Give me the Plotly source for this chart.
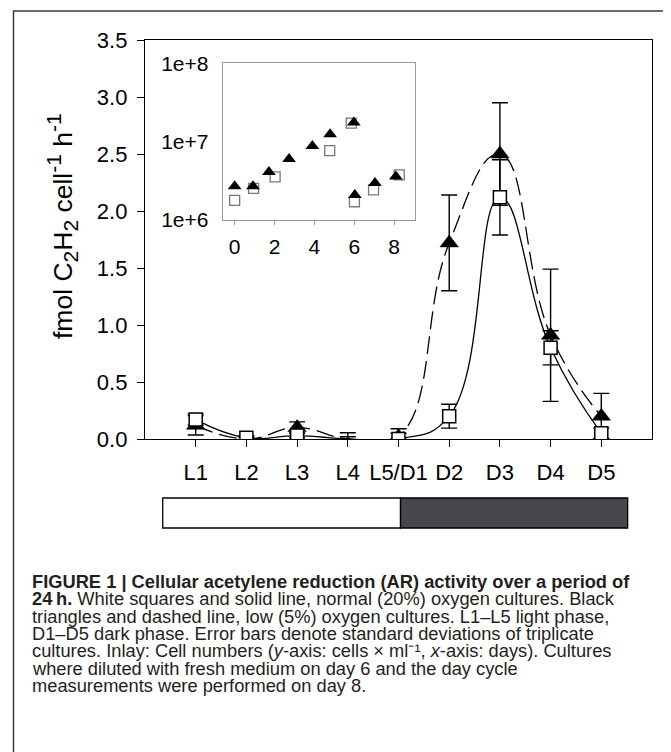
import plotly.graph_objects as go

# main panel: AR activity, fmol C2H2 per cell per hour
categories = ["L1", "L2", "L3", "L4", "L5/D1", "D2", "D3", "D4", "D5"]
normal_o2 = [0.17, 0.01, 0.03, 0.0, 0.0, 0.20, 2.12, 0.80, 0.05]
normal_o2_sd = [0.05, 0.02, 0.02, 0.055, 0.05, 0.105, 0.33, 0.15, 0.045]
low_o2 = [0.12, 0.0, 0.10, 0.0, 0.02, 1.72, 2.50, 0.91, 0.20]
low_o2_sd = [0.085, 0.015, 0.05, 0.02, 0.07, 0.42, 0.45, 0.58, 0.20]
hidden_markers = ["L4"]  # no symbol drawn at L4 in the original

# inset: cell numbers (cells per ml) over days
inset_days_normal = [0.0, 0.95, 2.03, 4.77, 5.85, 6.01, 6.97, 8.26]
inset_cells_normal = [1.78e6, 2.53e6, 3.56e6, 7.7e6, 1.72e7, 1.71e6, 2.43e6, 3.77e6]
inset_days_low = [0.0, 0.92, 1.72, 2.73, 3.90, 4.79, 5.98, 6.03, 7.04, 8.09]
inset_cells_low = [2.7e6, 2.7e6, 4.1e6, 6.0e6, 8.8e6, 1.24e7, 1.75e7, 2.08e6, 2.96e6, 3.6e6]

caption_lines = [
    "<b>FIGURE 1 | Cellular acetylene reduction (AR) activity over a period of</b>",
    "<b>24\u2009h.</b> White squares and solid line, normal (20%) oxygen cultures. Black",
    "triangles and dashed line, low (5%) oxygen cultures. L1\u2013L5 light phase,",
    "D1\u2013D5 dark phase. Error bars denote standard deviations of triplicate",
    "cultures. Inlay: Cell numbers (<i>y</i>-axis: cells \u00d7 ml\u207b\u00b9, <i>x</i>-axis: days). Cultures",
    "where diluted with fresh medium on day 6 and the day cycle",
    "measurements were performed on day 8.",
]

# page body adds an 8px margin, so reference pixels are shifted by OFF
OFF = 8
W, H = 671 - OFF, 752 - OFF
PLOT_L, PLOT_R, PLOT_T, PLOT_B = 145, 652, 40, 439  # plot area in reference pixels


def px(x):
    return (x - PLOT_L) / (PLOT_R - PLOT_L)


def py(y):
    return (PLOT_B - y) / (PLOT_B - PLOT_T)


xi = list(range(len(categories)))
mx = [i for i, c in zip(xi, categories) if c not in hidden_markers]
low_m = [v for v, c in zip(low_o2, categories) if c not in hidden_markers]
normal_m = [v for v, c in zip(normal_o2, categories) if c not in hidden_markers]

fig = go.Figure()

# curves + error bars first, symbols on top
fig.add_trace(go.Scatter(
    x=xi, y=low_o2, mode="lines",
    line=dict(color="black", width=1.3, dash="18px,7px", shape="spline", smoothing=1.3),
    error_y=dict(type="data", array=low_o2_sd, color="black", thickness=1.4, width=8),
    showlegend=False,
))
fig.add_trace(go.Scatter(
    x=xi, y=normal_o2, mode="lines",
    line=dict(color="black", width=1.3, shape="spline", smoothing=1.3),
    error_y=dict(type="data", array=normal_o2_sd, color="black", thickness=1.4, width=8),
    showlegend=False,
))
fig.add_trace(go.Scatter(
    x=mx, y=low_m, mode="markers",
    marker=dict(symbol="triangle-up", color="black", size=16, opacity=1,
                line=dict(color="black", width=0.5)),
    showlegend=False,
))
fig.add_trace(go.Scatter(
    x=mx, y=normal_m, mode="markers",
    marker=dict(symbol="square", color="white", size=13, opacity=1,
                line=dict(color="black", width=1.5)),
    showlegend=False,
))

# inset
fig.add_trace(go.Scatter(
    x=inset_days_normal, y=inset_cells_normal, mode="markers", xaxis="x2", yaxis="y2",
    marker=dict(symbol="square", color="white", size=10, line=dict(color="#777777", width=1.3)),
    showlegend=False,
))
fig.add_trace(go.Scatter(
    x=inset_days_low, y=inset_cells_low, mode="markers", xaxis="x2", yaxis="y2",
    marker=dict(symbol="triangle-up", color="black", size=12), showlegend=False,
))

tick_font = dict(family="Liberation Sans, Arial", size=22, color="black")
inset_font = dict(family="Liberation Sans, Arial", size=21, color="black")

fig.update_layout(
    width=W, height=H,
    margin=dict(l=PLOT_L - OFF, r=W - (PLOT_R - OFF), t=PLOT_T - OFF, b=H - (PLOT_B - OFF)),
    paper_bgcolor="white", plot_bgcolor="white",
    xaxis=dict(range=[-1, 9], tickvals=xi, ticktext=categories, showgrid=False, zeroline=False,
               showline=True, linecolor="black", linewidth=1.4, mirror=True,
               ticks="outside", ticklen=7, tickcolor="black", tickwidth=1.3,
               ticklabelstandoff=6, tickfont=tick_font, automargin=False),
    yaxis=dict(range=[0, 3.5], dtick=0.5, tickformat=".1f", showgrid=False, zeroline=False,
               showline=True, linecolor="black", linewidth=1.4, mirror=True,
               ticks="outside", ticklen=7, tickcolor="black", tickwidth=1.3,
               ticklabelstandoff=5, tickfont=tick_font, automargin=False),
    xaxis2=dict(domain=[px(222.7), px(415)], anchor="y2", range=[-0.6, 9.05],
                tickvals=[0, 2, 4, 6, 8], showgrid=False, zeroline=False,
                showline=True, linecolor="#999999", linewidth=1, mirror=True,
                ticks="outside", ticklen=4, tickcolor="#999999",
                ticklabelstandoff=4, tickfont=inset_font, automargin=False),
    yaxis2=dict(domain=[py(220), py(63.3)], anchor="x2", type="log", range=[6, 8],
                tickvals=[1e6, 1e7, 1e8], ticktext=["1e+6", "1e+7", "1e+8"],
                showgrid=False, zeroline=False,
                showline=True, linecolor="#999999", linewidth=1, mirror=True,
                ticks="", ticklabelstandoff=9, tickfont=inset_font, automargin=False),
)

# y-axis title with sub/superscripts
sub = "<sub><span style='font-size:21px'>{}</span></sub>"
sup = "<sup><span style='font-size:21px'>{}</span></sup>"
fig.add_annotation(
    text="fmol C" + sub.format("2") + "H" + sub.format("2") + " cell" + sup.format("-1")
         + " h" + sup.format("-1"),
    xref="paper", yref="paper", x=px(62), y=py(226), xanchor="center", yanchor="middle",
    textangle=-90, showarrow=False,
    font=dict(family="Liberation Sans, Arial", size=26.5, color="black"),
)

# light / dark phase bar under the x axis
fig.add_shape(type="rect", xref="x", yref="paper", x0=-0.65, x1=4.04, y0=py(528), y1=py(498),
              fillcolor="white", line=dict(color="black", width=1.3))
fig.add_shape(type="rect", xref="x", yref="paper", x0=4.04, x1=8.52, y0=py(528), y1=py(498),
              fillcolor="#47474b", line=dict(color="black", width=1.3))

# outer figure frame (bottom edge falls outside the picture)
fig.add_shape(type="path", xref="paper", yref="paper",
              path=f"M {px(13.5)},{py(770)} L {px(13.5)},{py(11)} L {px(665)},{py(11)} L {px(665)},{py(770)}",
              line=dict(color="#3a3a3a", width=1.5))

# caption lines
line_y = [581.3, 598.7, 616.0, 633.3, 650.7, 668.3, 685.7]
for text, yy in zip(caption_lines, line_y):
    fig.add_annotation(
        text=text, xref="paper", yref="paper", x=px(29.5), y=py(yy),
        xanchor="left", yanchor="middle", showarrow=False, align="left",
        font=dict(family="Liberation Sans Narrow, Liberation Sans, Arial", size=18.3, color="#231f20"),
    )

fig.write_html("out.html")
